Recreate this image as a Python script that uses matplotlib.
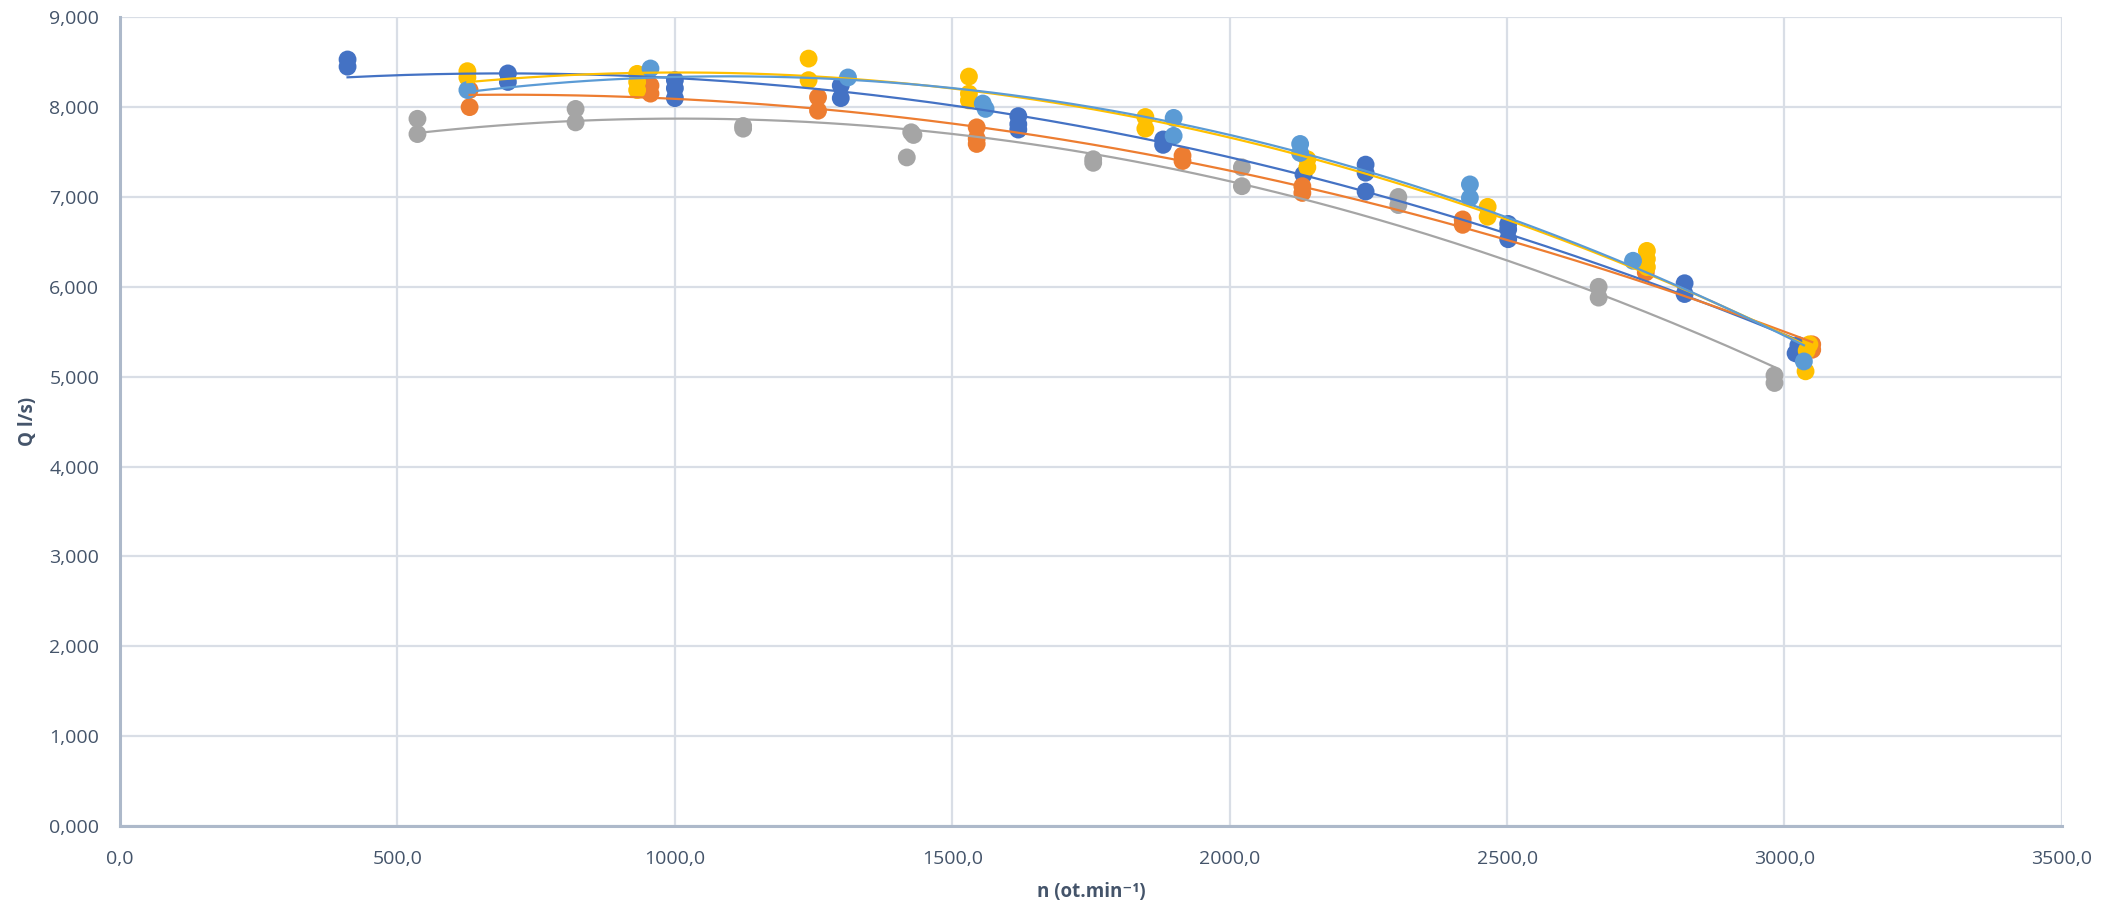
import numpy as np
import matplotlib
matplotlib.use("Agg")
import matplotlib.pyplot as plt
from matplotlib.ticker import FuncFormatter, MultipleLocator

plt.rcParams['font.family'] = ['Open Sans', 'DejaVu Sans']

# otacky n a prutok Q pro jednotlive rady (v poradi Excelu)
n_modra = [410, 410, 699, 699, 1000, 1000, 1000, 1299, 1299, 1619, 1619, 1619, 1880, 1880,
           2133, 2245, 2245, 2245, 2502, 2502, 2502, 2820, 2820, 3020, 3030, 3025]
q_modra = [8.53, 8.45, 8.375, 8.28, 8.30, 8.21, 8.10, 8.24, 8.10, 7.90, 7.81, 7.75, 7.64, 7.58,
           7.25, 7.36, 7.27, 7.06, 6.70, 6.64, 6.53, 6.04, 5.92, 5.26, 5.23, 5.35]

n_oranz = [630, 630, 956, 956, 1258, 1258, 1544, 1544, 1544, 1915, 1915, 2131, 2131,
           2420, 2420, 2750, 3050, 3050]
q_oranz = [8.19, 8.00, 8.24, 8.15, 8.11, 7.96, 7.775, 7.65, 7.59, 7.46, 7.40, 7.12, 7.045,
           6.75, 6.69, 6.16, 5.36, 5.30]

n_seda = [536, 536, 821, 821, 1123, 1123, 1418, 1426, 1430, 1754, 1754, 2022, 2022,
          2304, 2304, 2665, 2665, 2982, 2982]
q_seda = [7.87, 7.70, 7.98, 7.83, 7.79, 7.76, 7.44, 7.72, 7.69, 7.42, 7.38, 7.33, 7.12,
          7.00, 6.91, 6.00, 5.88, 5.015, 4.93]

n_zluta = [626, 626, 932, 932, 932, 1241, 1241, 1530, 1530, 1530, 1848, 1848, 2140, 2140,
           2465, 2465, 2752, 2752, 2752, 3038, 3045, 3040]
q_zluta = [8.40, 8.33, 8.37, 8.28, 8.19, 8.54, 8.30, 8.34, 8.15, 8.075, 7.89, 7.76, 7.42, 7.33,
           6.89, 6.78, 6.40, 6.31, 6.22, 5.06, 5.36, 5.29]

n_svmodra = [626, 956, 1312, 1555, 1560, 1899, 1899, 2127, 2127, 2433, 2433, 2727, 3035]
q_svmodra = [8.19, 8.43, 8.33, 8.04, 7.98, 7.88, 7.68, 7.59, 7.49, 7.14, 6.99, 6.29, 5.17]

rady = [
    (n_modra, q_modra, '#4472C4'),
    (n_oranz, q_oranz, '#ED7D31'),
    (n_seda, q_seda, '#A5A5A5'),
    (n_zluta, q_zluta, '#FFC000'),
    (n_svmodra, q_svmodra, '#5B9BD5'),
]

fig = plt.figure(figsize=(21.18, 9.08), dpi=100)
ax = fig.add_axes([0.0567, 0.0903, 0.9168, 0.8907])

for n, q, barva in rady:
    ax.scatter(n, q, s=165, color=barva, edgecolors='none', zorder=3)

# polynomicke spojnice trendu (2. radu)
for n, q, barva in rady:
    koef = np.polyfit(n, q, 2)
    xs = np.linspace(min(n), max(n), 200)
    ax.plot(xs, np.polyval(koef, xs), color=barva, lw=1.6, zorder=4)

ax.set_xlim(0, 3500)
ax.set_ylim(0, 9)
ax.xaxis.set_major_locator(MultipleLocator(500))
ax.yaxis.set_major_locator(MultipleLocator(1))
ax.xaxis.set_major_formatter(FuncFormatter(lambda v, p: f"{v:.1f}".replace('.', ',')))
ax.yaxis.set_major_formatter(FuncFormatter(lambda v, p: f"{v:.3f}".replace('.', ',')))

ax.grid(True, color='#D9DEE6', lw=1.6, zorder=0)
ax.set_axisbelow(True)
for s in ['top', 'right']:
    ax.spines[s].set_visible(False)
for s in ['left', 'bottom']:
    ax.spines[s].set_color('#ADB9CA')
    ax.spines[s].set_linewidth(2.2)

ax.tick_params(axis='both', length=0, labelsize=14, labelcolor='#44546A')
ax.tick_params(axis='y', pad=15)
ax.tick_params(axis='x', pad=17)

ax.set_ylabel('Q l/s)', fontsize=13.5, fontweight='bold', color='#44546A', labelpad=8)
ax.set_xlabel('n (ot.min⁻¹)', fontsize=13.5, fontweight='bold', color='#44546A', labelpad=10)

fig.savefig('out.png', dpi=100)
